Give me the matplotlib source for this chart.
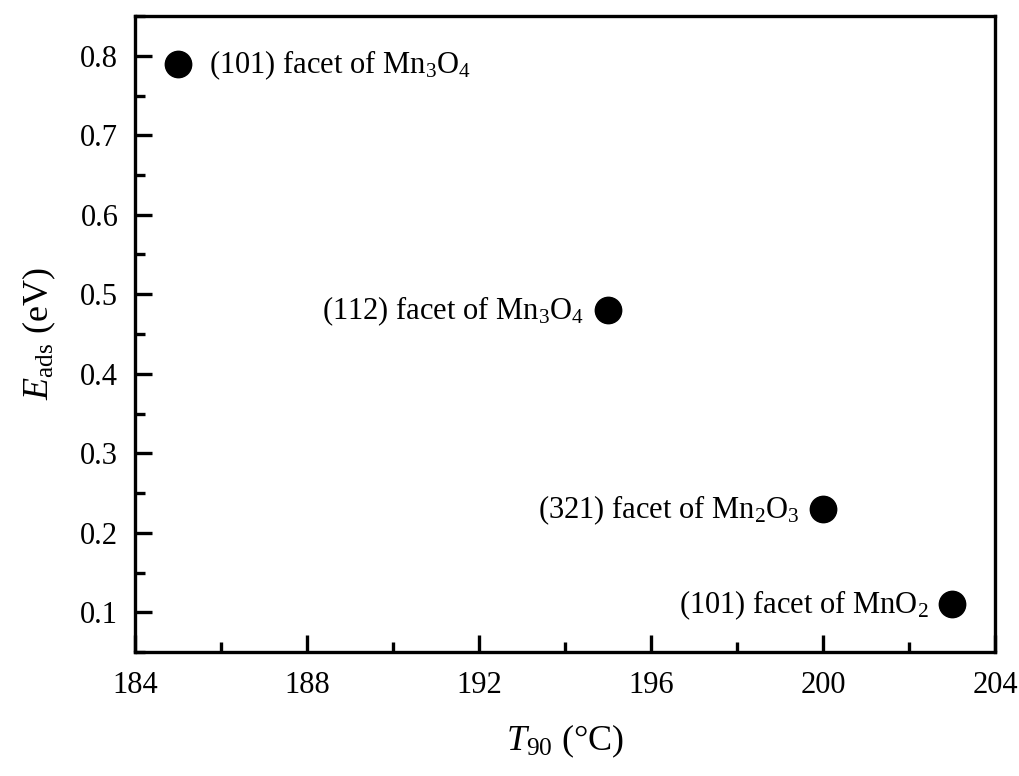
import matplotlib
matplotlib.use("Agg")
import matplotlib.pyplot as plt
from matplotlib.ticker import MultipleLocator

plt.rcParams['font.family'] = ['Liberation Serif', 'DejaVu Serif']
plt.rcParams['mathtext.fontset'] = 'custom'
plt.rcParams['mathtext.rm'] = 'Liberation Serif'
plt.rcParams['mathtext.it'] = 'Liberation Serif:italic'

# data
t90 = [185, 195, 200, 203]
e_ads = [0.79, 0.48, 0.23, 0.11]
labels = [r'(101) facet of Mn$_{3}$O$_{4}$',
          r'(112) facet of Mn$_{3}$O$_{4}$',
          r'(321) facet of Mn$_{2}$O$_{3}$',
          r'(101) facet of MnO$_{2}$']
label_side = ['right', 'left', 'left', 'left']

fig = plt.figure(figsize=(10.2, 7.76), dpi=100)
ax = fig.add_axes([135/1020, 1 - 652/776, 860/1020, 636/776])

ax.plot(t90, e_ads, 'o', color='black', markersize=19, linestyle='none')

for x, y, lab, side in zip(t90, e_ads, labels, label_side):
    if side == 'right':
        ax.annotate(lab, (x, y), xytext=(22, -1), textcoords='offset points',
                    ha='left', va='center', fontsize=22)
    else:
        ax.annotate(lab, (x, y), xytext=(-17, -1), textcoords='offset points',
                    ha='right', va='center', fontsize=22)

ax.set_xlim(184, 204)
ax.set_ylim(0.05, 0.85)
ax.xaxis.set_major_locator(MultipleLocator(4))
ax.xaxis.set_minor_locator(MultipleLocator(2))
ax.yaxis.set_minor_locator(MultipleLocator(0.05))
ax.set_yticks([0.1, 0.2, 0.3, 0.4, 0.5, 0.6, 0.7, 0.8])

ax.tick_params(which='major', direction='in', length=12, width=2.4, labelsize=22)
ax.tick_params(axis='x', which='major', pad=14)
ax.tick_params(axis='y', which='major', pad=12)
ax.tick_params(which='minor', direction='in', length=7, width=2.4)
for sp in ax.spines.values():
    sp.set_linewidth(2.4)

ax.set_xlabel(r'$T_{90}$ (°C)', fontsize=26, labelpad=16)
ax.set_ylabel(r'$E_{\rm ads}$ (eV)', fontsize=26, labelpad=16)

fig.savefig('out.png', dpi=100)
